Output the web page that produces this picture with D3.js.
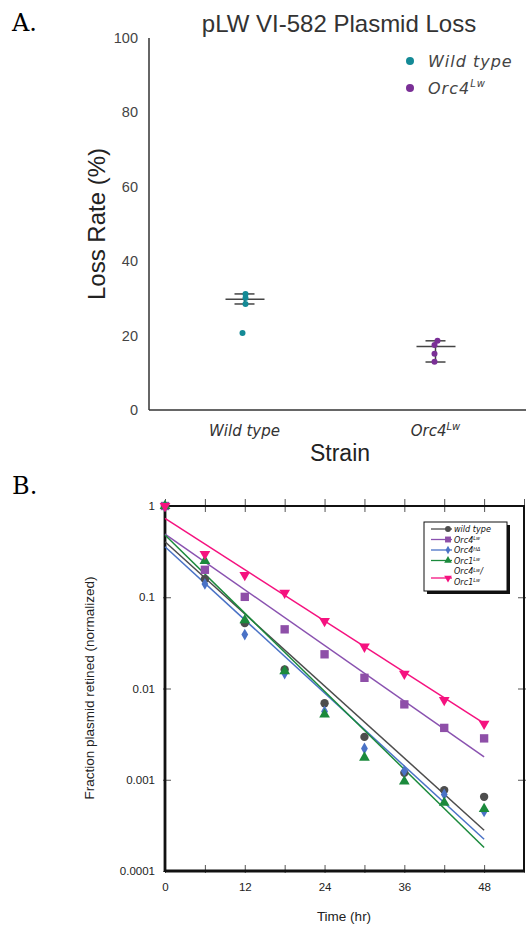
<!DOCTYPE html>
<html>
<head>
<meta charset="utf-8">
<script src="https://cdn.jsdelivr.net/npm/d3@7"></script>
<style>
  body { margin: 0; background: #fff; }
  svg { display: block; }
</style>
</head>
<body>
<script>
var svgWidth = 526;
var svgHeight = 928;

// ---- panel A data ----
var strains = ["Wild type", "Orc4Lw"];
var wildTypeLoss = [31.2, 30.1, 28.5, 20.7];
var orc4Loss = [18.6, 17.5, 15.1, 13.0];
var lossMean = [29.8, 17.1];
var lossLow = [28.5, 12.9];
var lossHigh = [31.2, 18.6];
var lossTicks = [0, 20, 40, 60, 80, 100];

// ---- panel B data ----
var times = [0, 6, 12, 18, 24, 30, 36, 42, 48];
var wildType = [1, 0.158, 0.052, 0.0162, 0.0069, 0.00295, 0.00119, 0.00077, 0.00065];
var orc4Lw = [1, 0.20, 0.101, 0.0445, 0.0237, 0.0131, 0.0067, 0.0037, 0.00284];
var orc4HD = [1, 0.14, 0.039, 0.0146, 0.0056, 0.0022, 0.00125, 0.00069, 0.00045];
var orc1Lw = [1, 0.25, 0.056, 0.0155, 0.0052, 0.00175, 0.00096, 0.00056, 0.00048];
var orc4Orc1 = [1, 0.298, 0.175, 0.112, 0.0548, 0.0287, 0.0145, 0.00746, 0.0041];
// exponential fit lines, value at t=0 and t=48
var fitStart = [0.406, 0.493, 0.358, 0.48, 0.733];
var fitEnd = [0.00028, 0.00178, 0.000223, 0.000181, 0.00414];
var fractionTicks = [1, 0.1, 0.01, 0.001, 0.0001];
var fractionLabels = ["1", "0.1", "0.01", "0.001", "0.0001"];

var sans = "'Liberation Sans', Arial, sans-serif";
var dvs = "'DejaVu Sans', sans-serif";
var narrow = "'Liberation Sans Narrow', 'DejaVu Sans Condensed', sans-serif";

var svg = d3.select("body").append("svg")
  .attr("width", svgWidth)
  .attr("height", svgHeight);

// panel letters
svg.append("text").attr("x", 12).attr("y", 31)
  .style("font-family", "'DejaVu Serif', 'Liberation Serif', serif")
  .style("font-size", "24px").text("A.");
svg.append("text").attr("x", 12).attr("y", 494)
  .style("font-family", "'DejaVu Serif', 'Liberation Serif', serif")
  .style("font-size", "24px").text("B.");

// =================== Panel A ===================
var colorsA = ["#148a96", "#7a2f96"];
var xA = d3.scaleBand().domain(strains).range([149, 531]);
var yA = d3.scaleLinear().domain([0, 100]).range([410, 38]);
var cx = (s) => xA(s) + xA.bandwidth() / 2;

var gA = svg.append("g");

gA.append("line").attr("x1", 149).attr("x2", 149).attr("y1", 38).attr("y2", 410)
  .attr("stroke", "#333").attr("stroke-width", 1.5);
gA.append("line").attr("x1", 149).attr("x2", 526).attr("y1", 410).attr("y2", 410)
  .attr("stroke", "#333").attr("stroke-width", 1.5);

gA.selectAll(".ytickA").data(lossTicks).enter().append("text")
  .attr("x", 138).attr("y", (d) => yA(d)).attr("dy", "0.35em")
  .attr("text-anchor", "end")
  .style("font-family", sans).style("font-size", "14.5px").style("fill", "#444")
  .text((d) => d);

// x tick labels
var xlab = gA.selectAll(".xtickA").data(strains).enter().append("text")
  .attr("x", (d) => cx(d)).attr("y", 436)
  .attr("text-anchor", "middle")
  .style("font-family", dvs).style("font-style", "italic")
  .style("font-size", "15px").style("fill", "#333");
xlab.each(function(d) {
  var t = d3.select(this);
  if (d === "Orc4Lw") {
    t.append("tspan").text("Orc4");
    t.append("tspan").attr("dy", -6).style("font-size", "10px").text("Lw");
  } else {
    t.text(d);
  }
});

gA.append("text").attr("x", 340).attr("y", 461)
  .attr("text-anchor", "middle")
  .style("font-family", sans).style("font-size", "23px").style("fill", "#222")
  .text("Strain");

gA.append("text")
  .attr("transform", "translate(105,224) rotate(-90)")
  .attr("text-anchor", "middle")
  .style("font-family", sans).style("font-size", "24px").style("fill", "#222")
  .text("Loss Rate (%)");

gA.append("text").attr("x", 339).attr("y", 32)
  .attr("text-anchor", "middle")
  .style("font-family", sans).style("font-size", "24px").style("fill", "#333")
  .text("pLW VI-582 Plasmid Loss");

// mean and error bars
strains.forEach(function(s, i) {
  var c = cx(s);
  gA.append("line").attr("x1", c - 19).attr("x2", c + 20)
    .attr("y1", yA(lossMean[i])).attr("y2", yA(lossMean[i]))
    .attr("stroke", "#444").attr("stroke-width", 1.5);
  [lossLow[i], lossHigh[i]].forEach(function(v) {
    gA.append("line").attr("x1", c - 10).attr("x2", c + 10)
      .attr("y1", yA(v)).attr("y2", yA(v))
      .attr("stroke", "#444").attr("stroke-width", 1.5);
  });
  gA.append("line").attr("x1", c).attr("x2", c)
    .attr("y1", yA(lossLow[i])).attr("y2", yA(lossHigh[i]))
    .attr("stroke", "#444").attr("stroke-width", 1.5);
});

// strip points (small horizontal jitter)
var jitterWT = [1, 1, 1, -2];
var jitterOrc = [2, -1, -1, -1];
gA.selectAll(".wt").data(wildTypeLoss).enter().append("circle")
  .attr("cx", (d, i) => cx(strains[0]) + jitterWT[i])
  .attr("cy", (d) => yA(d)).attr("r", 3)
  .attr("fill", colorsA[0]);
gA.selectAll(".orc").data(orc4Loss).enter().append("circle")
  .attr("cx", (d, i) => cx(strains[1]) + jitterOrc[i])
  .attr("cy", (d) => yA(d)).attr("r", 3)
  .attr("fill", colorsA[1]);

// legend A
strains.forEach(function(s, i) {
  var y = 61 + i * 27;
  gA.append("circle").attr("cx", 410).attr("cy", y).attr("r", 4).attr("fill", colorsA[i]);
  var t = gA.append("text").attr("x", 428).attr("y", y + 6)
    .style("font-family", dvs).style("font-style", "italic")
    .style("font-size", "16px").style("letter-spacing", "1px").style("fill", "#444");
  if (i === 1) {
    t.append("tspan").text("Orc4");
    t.append("tspan").attr("dy", -7).style("font-size", "10px").text("Lw");
  } else {
    t.text(s);
  }
});

// =================== Panel B ===================
var seriesNames = ["wild type", "Orc4", "Orc4", "Orc1", "Orc4"];
var seriesSup = ["", "Lw", "HΔ", "Lw", "Lw"];
var seriesData = [wildType, orc4Lw, orc4HD, orc1Lw, orc4Orc1];
var colorsB = ["#4d4d4d", "#8e4fa8", "#4a72c6", "#1b8a3c", "#f5127f"];
var lineColorsB = ["#4d4d4d", "#8a52b0", "#4a72c6", "#1b8a3c", "#f5127f"];
var symbolsB = [d3.symbolCircle, d3.symbolSquare, d3.symbolDiamond, d3.symbolTriangle, d3.symbolTriangle];
var sizesB = [55, 70, 40, 50, 50];
var rotB = [0, 0, 0, 0, 180];

var xB = d3.scaleLinear().domain([0, 54]).range([165, 524]);
var yB = d3.scaleLog().domain([0.0001, 1]).range([871, 506]);
var gB = svg.append("g");

var hourTicks = d3.range(0, 55, 6);

// axes
var bottomAxis = d3.axisBottom(xB).tickValues(hourTicks).tickSize(-6)
  .tickFormat((d) => d % 12 === 0 && d <= 48 ? d : "");
gB.append("g").attr("transform", "translate(0,871)").call(bottomAxis)
  .call((g) => g.select(".domain").remove())
  .call((g) => g.selectAll("line").attr("y2", -6).attr("y1", 2).attr("stroke", "#555"))
  .call((g) => g.selectAll("text").attr("y", 12)
    .style("font-family", sans).style("font-size", "11.5px").style("fill", "#222"));

var topAxis = d3.axisTop(xB).tickValues(hourTicks).tickFormat("");
gB.append("g").attr("transform", "translate(0,506)").call(topAxis)
  .call((g) => g.select(".domain").remove())
  .call((g) => g.selectAll("line").attr("y1", -7).attr("y2", 6).attr("stroke", "#555"));

var leftAxis = d3.axisLeft(yB).tickValues(fractionTicks)
  .tickFormat((d, i) => fractionLabels[i]);
gB.append("g").attr("transform", "translate(165,0)").call(leftAxis)
  .call((g) => g.select(".domain").remove())
  .call((g) => g.selectAll("line").attr("x1", -2).attr("x2", 6).attr("stroke", "#555"))
  .call((g) => g.selectAll("text").attr("x", -10)
    .style("font-family", sans).style("font-size", "11.5px").style("fill", "#222"));

var rightAxis = d3.axisRight(yB).tickValues(fractionTicks.slice(1, 4)).tickFormat("");
gB.append("g").attr("transform", "translate(524,0)").call(rightAxis)
  .call((g) => g.select(".domain").remove())
  .call((g) => g.selectAll("line").attr("x1", -6).attr("x2", 3).attr("stroke", "#555"));

// frame
gB.append("rect").attr("x", xB(0)).attr("y", yB(1))
  .attr("width", xB(54) - xB(0)).attr("height", yB(0.0001) - yB(1))
  .attr("fill", "none").attr("stroke", "#111").attr("stroke-width", 2);
gB.append("line").attr("x1", xB(0)).attr("x2", xB(0)).attr("y1", yB(1)).attr("y2", yB(0.0001))
  .attr("stroke", "#111").attr("stroke-width", 2.8);
gB.append("line").attr("x1", xB(0)).attr("x2", xB(54)).attr("y1", yB(0.0001)).attr("y2", yB(0.0001))
  .attr("stroke", "#111").attr("stroke-width", 2.8);

gB.append("text").attr("x", 344).attr("y", 921)
  .attr("text-anchor", "middle")
  .style("font-family", sans).style("font-size", "13.5px").style("fill", "#222")
  .text("Time (hr)");

gB.append("text")
  .attr("transform", "translate(94,688) rotate(-90)")
  .attr("text-anchor", "middle")
  .style("font-family", sans).style("font-size", "13.5px").style("fill", "#222")
  .text("Fraction plasmid retined (normalized)");

// fit lines
var fitLine = d3.line().x((d) => xB(d[0])).y((d) => yB(d[1]));
seriesData.forEach(function(s, i) {
  gB.append("path")
    .datum([[0, fitStart[i]], [48, fitEnd[i]]])
    .attr("d", fitLine)
    .attr("fill", "none").attr("stroke", lineColorsB[i]).attr("stroke-width", 1.5);
});

// markers
seriesData.forEach(function(s, i) {
  gB.selectAll(".pt" + i).data(s).enter().append("path")
    .attr("d", d3.symbol().type(symbolsB[i]).size(sizesB[i]))
    .attr("transform", (d, j) => "translate(" + xB(times[j]) + "," + yB(d) + ") rotate(" + rotB[i] + ")")
    .attr("fill", colorsB[i]);
});

// legend B
var lg = gB.append("g");
lg.append("rect").attr("x", 427).attr("y", 525).attr("width", 83).attr("height", 69).attr("fill", "#111");
lg.append("rect").attr("x", 424).attr("y", 522).attr("width", 83).attr("height", 69)
  .attr("fill", "#fff").attr("stroke", "#111").attr("stroke-width", 1);
var legendBase = [532, 542.5, 553, 563.5, 574];
var legendFont = "9px";
seriesData.forEach(function(s, i) {
  var y = i === 4 ? 578 : legendBase[i] - 3;
  lg.append("line").attr("x1", 431).attr("x2", 452).attr("y1", y).attr("y2", y)
    .attr("stroke", lineColorsB[i]).attr("stroke-width", 1.3);
  lg.append("path")
    .attr("d", d3.symbol().type(symbolsB[i]).size(sizesB[i] * 0.5))
    .attr("transform", "translate(448," + y + ") rotate(" + rotB[i] + ")")
    .attr("fill", colorsB[i]);
  var t = lg.append("text").attr("x", 454).attr("y", legendBase[i])
    .style("font-family", narrow).style("font-style", "italic")
    .style("font-size", legendFont).style("fill", "#111");
  t.append("tspan").text(seriesNames[i]);
  if (seriesSup[i]) {
    t.append("tspan").attr("dy", -2.5).style("font-size", "5.5px").text(seriesSup[i]);
  }
  if (i === 4) {
    t.append("tspan").attr("dy", 2.5).text("/");
    var t2 = lg.append("text").attr("x", 454).attr("y", 584.5)
      .style("font-family", narrow).style("font-style", "italic")
      .style("font-size", legendFont).style("fill", "#111");
    t2.append("tspan").text("Orc1");
    t2.append("tspan").attr("dy", -2.5).style("font-size", "5.5px").text("Lw");
  }
});
</script>
</body>
</html>
